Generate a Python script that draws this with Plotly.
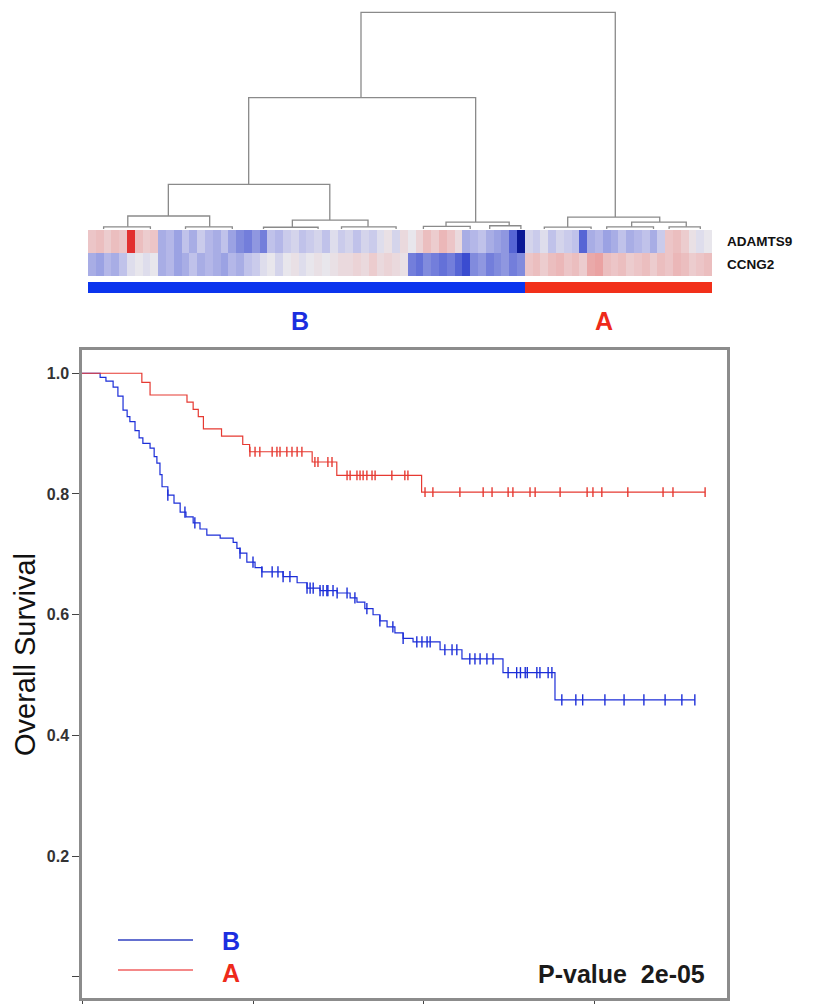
import plotly.graph_objects as go

# ---------------- data ----------------
genes = ["ADAMTS9", "CCNG2"]
adamts9 = [0.25, 0.3, 0.2, 0.3, 0.25, 0.9, 0.3, 0.2, 0.25,
           -0.3, -0.25, -0.35, -0.2, -0.3, -0.15, -0.25, -0.3, -0.2, -0.35,
           -0.45, -0.5, -0.4, -0.5,
           -0.2, -0.25, -0.15, -0.1, -0.2, -0.15, -0.1, -0.2, -0.05, -0.15, -0.1, -0.2, -0.1, -0.15,
           -0.05, 0.05, -0.1, 0.1, 0.0, 0.15,
           0.3, 0.2, 0.35, 0.25, 0.1,
           -0.3, -0.25, -0.2, -0.3, -0.35, -0.4,
           -0.6, -1.0,
           -0.1, -0.15, -0.05, -0.2, -0.1, -0.15, -0.2,
           -0.6,
           -0.3, -0.25, -0.35, -0.3, -0.2, -0.3, -0.25, -0.2, -0.3, -0.15,
           0.25, 0.3, 0.2,
           0.05, -0.05, 0.0]
ccng2 = [-0.3, -0.35, -0.25, -0.3, -0.2,
         -0.05, 0.0, -0.05, 0.0,
         -0.3, -0.25, -0.35, -0.3, -0.2, -0.3, -0.25, -0.3, -0.35, -0.25, -0.3, -0.2, -0.15,
         -0.05, 0.0, -0.1, 0.0, 0.05, -0.05, 0.0, 0.05, 0.0, 0.05, 0.1,
         0.1, 0.15, 0.1, 0.2, 0.1, 0.15, 0.1, 0.05,
         -0.5, -0.55, -0.45, -0.5, -0.55, -0.5, -0.6,
         -0.7,
         -0.45, -0.4, -0.5, -0.45, -0.4, -0.5, -0.45,
         0.25, 0.3, 0.2, 0.3, 0.35, 0.25, 0.3, 0.2, 0.45, 0.5, 0.3, 0.25,
         0.3, 0.2, 0.25, 0.3, 0.2, 0.3, 0.25, 0.35, 0.3, 0.2, 0.25, 0.3]
groups = ["B"] * 56 + ["A"] * 24
group_labels = ["B", "A"]

# dendrogram links: left x, right x, merge height, left child height, right child height
link_left = [34.5, 20.1, 61.0, 9.8, 45.4, 4.6, 25.7, 69.2,
             1.5, 12.0, 22.0, 32.0, 42.5, 51.0, 58.0, 66.0, 74.0]
link_right = [67.1, 49.2, 72.8, 30.5, 53.5, 15.1, 35.4, 76.2,
              7.5, 18.0, 29.0, 39.0, 48.5, 55.0, 64.0, 72.0, 78.0]
link_height = [10.0, 6.06, 0.55, 2.06, 0.32, 0.60, 0.41, 0.32,
               0.10, 0.10, 0.08, 0.10, 0.12, 0.15, 0.09, 0.10, 0.10]
child_left = [6.06, 2.06, 0.09, 0.60, 0.12, 0.10, 0.08, 0.10,
              0, 0, 0, 0, 0, 0, 0, 0, 0]
child_right = [0.55, 0.32, 0.32, 0.41, 0.15, 0.10, 0.10, 0.10,
               0, 0, 0, 0, 0, 0, 0, 0, 0]

# Kaplan-Meier: group A (red)
a_times = [0, 1.75, 1.99, 3.07, 3.25, 3.40, 3.55, 4.08, 4.70, 4.90, 6.73, 7.45, 9.93]
a_surv = [1.0, 0.985, 0.964, 0.952, 0.940, 0.928, 0.908, 0.896, 0.882, 0.870, 0.853, 0.831, 0.803]
a_end = 18.22
a_cens = [4.91, 5.06, 5.20, 5.56, 5.70, 5.79, 5.99, 6.14, 6.29, 6.43,
          6.81, 6.90, 7.19, 7.31,
          7.75, 7.84, 8.04, 8.13, 8.22, 8.33, 8.48, 8.57, 9.06, 9.44, 9.53,
          10.03, 10.26, 11.05, 11.73, 11.99, 12.46, 12.60, 13.10, 13.25, 13.98,
          14.77, 14.94, 15.20, 15.96, 16.99, 17.28, 18.22]

# group B (blue)
b_times = [0, 0.53, 0.70, 0.91, 1.05, 1.20, 1.32, 1.40, 1.55, 1.67, 1.78, 1.99, 2.11,
           2.19, 2.28, 2.34, 2.51, 2.69, 2.87, 3.04, 3.25, 3.45, 3.65, 4.04, 4.42,
           4.53, 4.62, 4.82, 5.06, 5.26, 5.88, 6.29, 6.58, 6.96, 7.46, 7.84, 8.04,
           8.27, 8.51, 8.71, 8.92, 9.15, 9.39, 9.68, 10.47, 11.11, 12.31, 13.83]
b_surv = [1.0, 0.993, 0.987, 0.977, 0.962, 0.939, 0.928, 0.920, 0.905, 0.893, 0.884, 0.876, 0.862,
          0.851, 0.832, 0.812, 0.798, 0.785, 0.770, 0.762, 0.752, 0.742, 0.732, 0.727, 0.720,
          0.710, 0.702, 0.687, 0.678, 0.671, 0.663, 0.653, 0.644, 0.640, 0.636, 0.628, 0.621,
          0.610, 0.600, 0.590, 0.580, 0.570, 0.561, 0.555, 0.542, 0.527, 0.504, 0.459]
b_end = 17.92
b_cens = [2.51, 3.01, 3.30, 4.62, 5.00, 5.26, 5.56, 5.73, 5.88, 6.08, 6.58, 6.67, 6.76,
          6.96, 7.05, 7.16, 7.19, 7.34, 7.46, 7.75, 7.98, 8.33, 8.71, 9.09,
          9.39, 9.79, 9.94, 10.09, 10.18, 10.61, 10.82, 10.96, 11.34, 11.49, 11.64, 11.84,
          12.02, 12.46, 12.71, 12.82, 12.96, 13.02, 13.30, 13.39, 13.63, 13.74, 14.03, 14.44,
          14.64, 15.29, 15.85, 16.43, 17.05, 17.54, 17.92]

p_value_text = "P-value  2e-05"
y_title = "Overall Survival"
y_ticks = [0, 0.2, 0.4, 0.6, 0.8, 1.0]
y_tick_labels = ["", "0.2", "0.4", "0.6", "0.8", "1.0"]
x_ticks = [0, 5, 10, 15]

RED = "#e63a32"
BLUE = "#1c2ed8"

# page has an 8px body margin: the figure starts at (8, 8)
OFF = 8
W, H = 824 - OFF, 1004 - OFF


def px(x):
    return (x - OFF) / W


def py(y):
    return 1 - (y - OFF) / H


def surv_at(t, times, surv):
    s = surv[0]
    for tt, ss in zip(times, surv):
        if tt <= t:
            s = ss
    return s


fig = go.Figure()

# ---------- dendrogram ----------
dx, dy = [], []
for l, r, h, cl, cr in zip(link_left, link_right, link_height, child_left, child_right):
    dx += [l, l, r, r, None]
    dy += [cl, h, h, cr, None]
fig.add_trace(go.Scatter(x=dx, y=dy, mode="lines", line=dict(color="#8a8a8a", width=1.3),
                         xaxis="x3", yaxis="y3", showlegend=False, hoverinfo="skip"))

# ---------- heatmap ----------
cols = list(range(len(adamts9)))
fig.add_trace(go.Heatmap(
    z=[ccng2, adamts9], x=cols, y=[genes[1], genes[0]],
    zmin=-1, zmax=1,
    colorscale=[[0.0, "#0a1896"], [0.15, "#3a4cd0"], [0.3, "#8f97e0"], [0.4, "#c0c2ea"],
                [0.5, "#e8e6ec"], [0.6, "#ecccce"], [0.75, "#eaa2a2"], [1.0, "#e01212"]],
    showscale=False, xaxis="x2", yaxis="y2", hoverinfo="skip"))

# ---------- group bar ----------
gz = [[0 if g == "B" else 1 for g in groups]]
fig.add_trace(go.Heatmap(
    z=gz, x=cols, y=["grp"], zmin=0, zmax=1,
    colorscale=[[0, "#0a34ee"], [0.5, "#0a34ee"], [0.5, "#f2301a"], [1, "#f2301a"]],
    showscale=False, xaxis="x4", yaxis="y4", hoverinfo="skip"))

# ---------- KM curves ----------
bx = b_times + [b_end]
by = b_surv + [b_surv[-1]]
fig.add_trace(go.Scatter(x=bx, y=by, mode="lines", line=dict(color=BLUE, width=1.2, shape="hv"),
                         xaxis="x", yaxis="y", showlegend=False, hoverinfo="skip"))
b_c = [c for c in b_cens if c <= b_end]
fig.add_trace(go.Scatter(x=b_c, y=[surv_at(c, b_times, b_surv) for c in b_c], mode="markers",
                         marker=dict(symbol="line-ns", size=8, line=dict(color=BLUE, width=1.4)),
                         xaxis="x", yaxis="y", showlegend=False, hoverinfo="skip"))

ax_ = a_times + [a_end]
ay_ = a_surv + [a_surv[-1]]
fig.add_trace(go.Scatter(x=ax_, y=ay_, mode="lines", line=dict(color=RED, width=1.2, shape="hv"),
                         xaxis="x", yaxis="y", showlegend=False, hoverinfo="skip"))
fig.add_trace(go.Scatter(x=a_cens, y=[surv_at(c, a_times, a_surv) for c in a_cens], mode="markers",
                         marker=dict(symbol="line-ns", size=7, line=dict(color=RED, width=1.4)),
                         xaxis="x", yaxis="y", showlegend=False, hoverinfo="skip"))

n = len(adamts9)
fig.update_layout(
    width=W, height=H, margin=dict(l=0, r=0, t=0, b=0, autoexpand=False),
    paper_bgcolor="white", plot_bgcolor="white",
    font=dict(family="Liberation Sans, Arial, sans-serif", color="#222"),
    # KM axes
    xaxis=dict(domain=[px(82), px(727)], range=[0, 18.86], tickvals=x_ticks, showticklabels=False,
               ticks="outside", ticklen=6, tickcolor="#444", showgrid=False, zeroline=False,
               showline=True, linecolor="#8c8c8c", linewidth=2.5, mirror=True, automargin=False),
    yaxis=dict(domain=[py(998), py(350)], range=[-0.0348, 1.0385], tickvals=y_ticks,
               ticktext=y_tick_labels, ticks="outside", ticklen=7, tickcolor="#444",
               tickfont=dict(size=16, color="#333", family="Liberation Sans, Arial", weight="bold"),
               showgrid=False, zeroline=False, showline=True, linecolor="#8c8c8c", linewidth=2.5,
               mirror=True, automargin=False),
    # heatmap axes
    xaxis2=dict(domain=[px(88), px(712)], range=[-0.5, n - 0.5], visible=False, anchor="y2"),
    yaxis2=dict(domain=[py(276), py(230)], side="right", showgrid=False, zeroline=False,
                ticks="", ticklabelstandoff=14, anchor="x2", automargin=False,
                tickfont=dict(size=13.5, color="#111", weight="bold")),
    # dendrogram axes
    xaxis3=dict(domain=[px(88), px(712)], range=[-0.5, n - 0.5], visible=False, anchor="y3"),
    yaxis3=dict(domain=[py(229), py(8)], range=[0, 10.2], visible=False, anchor="x3"),
    # group bar axes
    xaxis4=dict(domain=[px(88), px(712)], range=[-0.5, n - 0.5], visible=False, anchor="y4"),
    yaxis4=dict(domain=[py(293), py(282)], visible=False, anchor="x4"),
    showlegend=False,
)


def label(x, y, text, size, color, **kw):
    fig.add_annotation(x=px(x), y=py(y), xref="paper", yref="paper", text=text,
                       showarrow=False, xanchor=kw.pop("xanchor", "center"), yanchor="middle",
                       font=dict(size=size, color=color, **kw.pop("font", {})), **kw)


# y-axis title
label(25, 655, y_title, 29, "#111", textangle=-90)

# group labels under the bar
label(300, 321, "<b>%s</b>" % group_labels[0], 25, "#1c2ee0")
label(604, 321, "<b>%s</b>" % group_labels[1], 25, "#ee2a1a")

# KM legend
fig.add_shape(type="line", xref="paper", yref="paper", x0=px(118), x1=px(193), y0=py(940), y1=py(940),
              line=dict(color="#3040c0", width=1.3))
fig.add_shape(type="line", xref="paper", yref="paper", x0=px(118), x1=px(193), y0=py(970), y1=py(970),
              line=dict(color="#f06060", width=1.3))
label(231, 941, "<b>%s</b>" % group_labels[0], 25, "#1c2ee0")
label(231, 973, "<b>%s</b>" % group_labels[1], 25, "#ee2a1a")
label(707, 974, p_value_text, 25, "#1a1a1a", xanchor="right",
      font=dict(weight="bold", family="Liberation Sans Narrow, Liberation Sans, Arial"))

fig.write_html("out.html")
